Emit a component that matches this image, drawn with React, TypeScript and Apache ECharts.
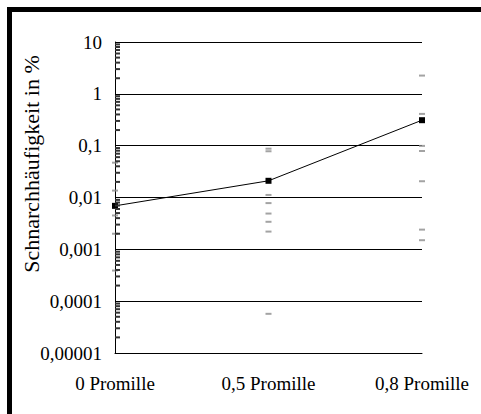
import React, { useEffect, useRef } from "react";
import * as echarts from "echarts";

const categories = ["0 Promille", "0,5 Promille", "0,8 Promille"];
const meanValues = [0.0069, 0.021, 0.31];
const dashes0 = [0.047, 0.0136, 0.0045, 0.002, 0.00039];
const dashes05 = [0.0875, 0.078, 0.0112, 0.0078, 0.0049, 0.0034, 0.0022, 0.000057];
const dashes08 = [2.25, 0.41, 0.099, 0.079, 0.0206, 0.0024, 0.0015];
const yTickLabels = ["0,00001", "0,0001", "0,001", "0,01", "0,1", "1", "10"];
const decades = [0.00001, 0.0001, 0.001, 0.01, 0.1, 1];
const minorMultipliers = [2, 3, 4, 5, 6, 7, 8, 9];
const yAxisName = "Schnarchhäufigkeit in %";

const FONT = "Times New Roman";

export default function App() {
  const ref = useRef<HTMLDivElement>(null);
  useEffect(() => {
    if (!ref.current) return;
    const chart = echarts.init(ref.current, null, { renderer: "svg" });
    const minorTicks: any[] = [];
    decades.forEach((d) =>
      minorMultipliers.forEach((m) => minorTicks.push([categories[0], m * d]))
    );
    const dashData: any[] = [];
    dashes0.forEach((v) => dashData.push([categories[0], v]));
    dashes05.forEach((v) => dashData.push([categories[1], v]));
    dashes08.forEach((v) => dashData.push([categories[2], v]));

    chart.setOption({
      animation: false,
      backgroundColor: "#ffffff",
      textStyle: { fontFamily: FONT },
      grid: { left: 115, top: 42, width: 307, height: 311, containLabel: false },
      xAxis: {
        type: "category",
        data: categories,
        boundaryGap: false,
        axisLine: { show: true, lineStyle: { color: "#000", width: 1 } },
        axisTick: { show: false },
        axisLabel: { color: "#000", fontFamily: FONT, fontSize: 19, margin: 21 },
        splitLine: { show: false },
      },
      yAxis: {
        type: "log",
        logBase: 10,
        min: 0.00001,
        max: 10,
        splitNumber: 6,
        axisLine: { show: true, lineStyle: { color: "#000", width: 1 } },
        axisTick: { show: false },
        axisLabel: {
          color: "#000",
          fontFamily: FONT,
          fontSize: 19,
          margin: 13,
          formatter: (v: number) => {
            const k = Math.round(Math.log10(v));
            return yTickLabels[k + 5] ?? "";
          },
        },
        splitLine: { show: true, lineStyle: { color: "#000", width: 1 } },
      },
      graphic: [
        {
          type: "polyline",
          shape: { points: [[9.5, 414], [9.5, 9.5], [481, 9.5]] },
          style: { stroke: "#000", lineWidth: 5, fill: null, lineJoin: "miter" },
          z: 100,
        },
        {
          type: "text",
          x: 31,
          y: 164,
          rotation: Math.PI / 2,
          style: {
            text: yAxisName,
            fontFamily: "Liberation Serif",
            fontSize: 22,
            fill: "#000",
            align: "center",
            verticalAlign: "middle",
          },
          z: 100,
        },
      ],
      series: [
        {
          type: "scatter",
          data: minorTicks,
          symbol: "rect",
          symbolSize: [5, 2],
          symbolOffset: [2.5, 0],
          itemStyle: { color: "#333", opacity: 1 },
          clip: false,
          silent: true,
          z: 6,
        },
        {
          type: "scatter",
          data: dashData,
          symbol: "rect",
          symbolSize: [6, 2],
          itemStyle: { color: "#8c8c8c" },
          clip: false,
          silent: true,
          z: 2,
        },
        {
          type: "line",
          data: meanValues,
          symbol: "rect",
          symbolSize: 6,
          lineStyle: { color: "#000", width: 1 },
          itemStyle: { color: "#000" },
          clip: false,
          z: 5,
        },
      ],
    });
    return () => chart.dispose();
  }, []);
  return (
    <div
      ref={ref}
      style={{ position: "absolute", left: 0, top: 0, width: 481, height: 414 }}
    />
  );
}
